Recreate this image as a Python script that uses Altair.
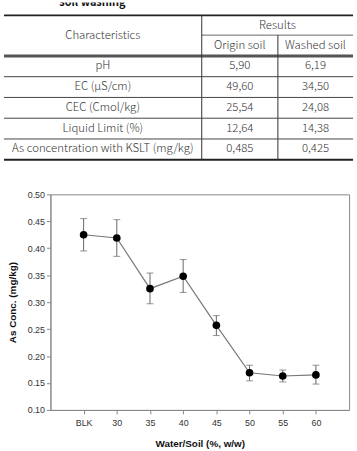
import altair as alt
import pandas as pd

# ---- table: soil characteristics before / after washing ----
caption = "soil washing"
header_left = "Characteristics"
header_group = "Results"
header_cols = ["Origin soil", "Washed soil"]
characteristics = [
    "pH",
    "EC (\u00b5S/cm)",
    "CEC (Cmol/kg)",
    "Liquid Limit (%)",
    "As concentration with KSLT (mg/kg)",
]
origin_soil = ["5,90", "49,60", "25,54", "12,64", "0,485"]
washed_soil = ["6,19", "34,50", "24,08", "14,38", "0,425"]

# ---- plot: As concentration vs water/soil ratio ----
water_soil = ["BLK", "30", "35", "40", "45", "50", "55", "60"]
as_conc = [0.425, 0.419, 0.325, 0.348, 0.257, 0.169, 0.163, 0.165]
err_high = [0.455, 0.453, 0.354, 0.379, 0.275, 0.183, 0.174, 0.183]
err_low = [0.395, 0.385, 0.297, 0.318, 0.238, 0.154, 0.152, 0.148]
y_ticks = [0.10, 0.15, 0.20, 0.25, 0.30, 0.35, 0.40, 0.45, 0.50]

# ---- layout (pixels) ----
PLOT_W, PLOT_H = 302, 218
ORIGIN_X = 49           # page x of the plot's left edge
TABLE_H = 160
GAP = 34
T_LEFT, T_RIGHT = 2, 355
T_V1, T_V2 = 202, 279
T_TOP, T_SUB, T_HEAD = 13, 33, 54
ROW_H = 21

TABLE_FONT = "Noto Sans CJK KR"
PLOT_FONT = "Liberation Sans"

# table drawn in page pixels, shifted so it lines up with the plot below
tx = alt.Scale(domain=[0, 357], range=[-ORIGIN_X, 357 - ORIGIN_X])
ty = alt.Scale(domain=[0, TABLE_H], range=[0, TABLE_H])

n = len(characteristics)
row_lines = [T_HEAD + ROW_H * (i + 1) for i in range(n - 1)]
t_bottom = T_HEAD + ROW_H * n

segments = pd.DataFrame(
    [
        dict(x=T_LEFT, x2=T_RIGHT, y=T_TOP, y2=T_TOP, sw=1.6, col="#222"),
        dict(x=T_V1, x2=T_RIGHT, y=T_SUB, y2=T_SUB, sw=1.0, col="#666"),
        dict(x=T_LEFT, x2=T_RIGHT, y=T_HEAD, y2=T_HEAD, sw=3.0, col="#555"),
        dict(x=T_LEFT, x2=T_RIGHT, y=t_bottom, y2=t_bottom, sw=2.0, col="#222"),
        dict(x=T_V1, x2=T_V1, y=T_TOP, y2=t_bottom, sw=1.0, col="#333"),
        dict(x=T_V2, x2=T_V2, y=T_SUB, y2=t_bottom, sw=1.0, col="#333"),
    ]
    + [dict(x=T_LEFT, x2=T_RIGHT, y=yy, y2=yy, sw=1.0, col="#444") for yy in row_lines]
)

c1 = (T_LEFT + T_V1) / 2
c2 = (T_V1 + T_V2) / 2
c3 = (T_V2 + T_RIGHT) / 2
cells = [
    dict(t=header_left, cx=c1, cy=(T_TOP + T_HEAD) / 2),
    dict(t=header_group, cx=(T_V1 + T_RIGHT) / 2, cy=(T_TOP + T_SUB) / 2 + 0.5),
    dict(t=header_cols[0], cx=c2, cy=(T_SUB + T_HEAD) / 2 + 0.5),
    dict(t=header_cols[1], cx=c3, cy=(T_SUB + T_HEAD) / 2 + 0.5),
]
for i in range(n):
    cy = T_HEAD + ROW_H * i + ROW_H / 2
    cells.append(dict(t=characteristics[i], cx=c1, cy=cy))
    cells.append(dict(t=origin_soil[i], cx=c2, cy=cy))
    cells.append(dict(t=washed_soil[i], cx=c3, cy=cy))
cells = pd.DataFrame(cells)

rules = alt.Chart(segments).mark_rule().encode(
    x=alt.X("x:Q", scale=tx, axis=None),
    x2="x2:Q",
    y=alt.Y("y:Q", scale=ty, axis=None),
    y2="y2:Q",
    strokeWidth=alt.StrokeWidth("sw:Q", scale=None),
    color=alt.Color("col:N", scale=None),
)

texts = alt.Chart(cells).mark_text(
    font=TABLE_FONT, fontSize=11.5, fontWeight=300, color="#333",
    align="center", baseline="middle",
).encode(
    x=alt.X("cx:Q", scale=tx, axis=None),
    y=alt.Y("cy:Q", scale=ty, axis=None),
    text="t:N",
)

cap = alt.Chart(pd.DataFrame({"t": [caption], "cx": [58], "cy": [4]})).mark_text(
    font=TABLE_FONT, fontSize=11, fontWeight="bold", color="#111",
    align="left", baseline="alphabetic", clip=True,
).encode(
    x=alt.X("cx:Q", scale=tx, axis=None),
    y=alt.Y("cy:Q", scale=ty, axis=None),
    text="t:N",
)

table = alt.layer(rules, texts, cap).properties(
    width=PLOT_W, height=TABLE_H, view=alt.ViewBackground(strokeOpacity=0)
)

# ---- line plot with error bars ----
df = pd.DataFrame(
    {"ws": water_soil, "conc": as_conc, "hi": err_high, "lo": err_low}
)

xs = alt.Scale(type="point", domain=water_soil, padding=1)
ys = alt.Scale(domain=[0.10, 0.50], nice=False, zero=False)

x_axis = alt.Axis(
    title="Water/Soil (%, w/w)", labelAngle=0, grid=False,
    labelFont=PLOT_FONT, labelFontSize=9, labelColor="#333", labelPadding=5,
    titleFont=PLOT_FONT, titleFontSize=10, titleFontWeight="bold", titleColor="#111",
    titlePadding=11, domainColor="#888", tickColor="#888", tickSize=4,
)
y_axis = alt.Axis(
    title="As Conc. (mg/kg)", values=y_ticks, format=".2f", grid=False,
    labelOverlap=False, labelFont=PLOT_FONT, labelFontSize=9, labelColor="#333",
    labelPadding=2, titleFont=PLOT_FONT, titleFontSize=10, titleFontWeight="bold",
    titleColor="#111", titlePadding=10, domainColor="#888", tickColor="#888", tickSize=4,
)


def xenc():
    return alt.X("ws:O", scale=xs, sort=water_soil, axis=x_axis)


def yenc(field):
    return alt.Y(f"{field}:Q", scale=ys, axis=y_axis)


base = alt.Chart(df)
line = base.mark_line(color="#777", strokeWidth=1.2).encode(x=xenc(), y=yenc("conc"))
bars = base.mark_rule(color="#666", strokeWidth=1).encode(
    x=xenc(), y=yenc("lo"), y2="hi:Q"
)
cap_hi = base.mark_tick(color="#666", size=7, thickness=1).encode(x=xenc(), y=yenc("hi"))
cap_lo = base.mark_tick(color="#666", size=7, thickness=1).encode(x=xenc(), y=yenc("lo"))
pts = base.mark_circle(color="#000", size=60, opacity=1).encode(x=xenc(), y=yenc("conc"))

plot = alt.layer(line, bars, cap_hi, cap_lo, pts).properties(
    width=PLOT_W, height=PLOT_H,
    view=alt.ViewBackground(stroke="#888", strokeWidth=1),
)

chart = (
    alt.vconcat(table, plot, spacing=GAP, bounds="flush")
    .properties(padding={"left": 2, "right": 2, "top": 0, "bottom": 0}, background="white")
)

chart.save("out.html", embed_options={"renderer": "svg", "actions": False})
